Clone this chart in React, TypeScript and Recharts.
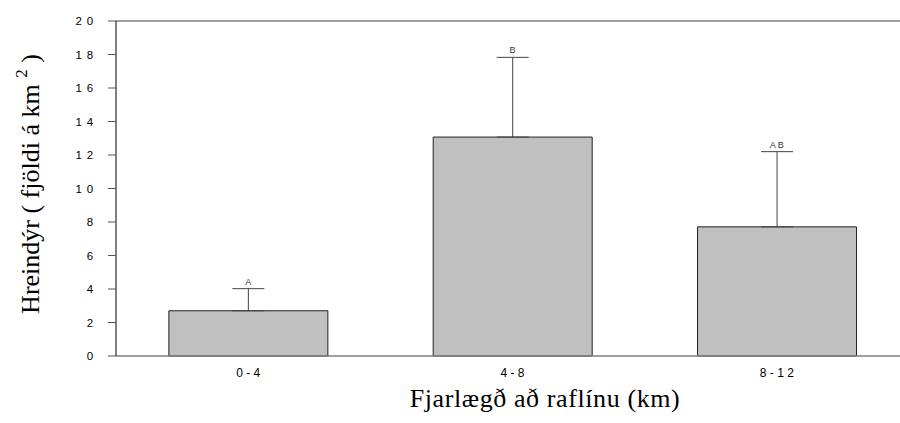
import React from 'react';
import { ComposedChart, Bar, Line, XAxis, YAxis, ErrorBar, LabelList, ReferenceLine } from 'recharts';

const categories = ['0 - 4', '4 - 8', '8 - 1 2'];
const means = [2.7, 13.07, 7.71];
const errors = [1.32, 4.76, 4.49];
const letters = ['A', 'B', 'A B'];
const yTicks = [0, 2, 4, 6, 8, 10, 12, 14, 16, 18, 20];

const data = categories.map((c, i) => ({
  cat: c,
  mean: means[i],
  err: [0, errors[i]],
  top: means[i] + errors[i],
  letter: letters[i],
}));

const fmtY = (v: number) => String(v).split('').join(' ');

const YLabel = () => (
  <text
    transform="translate(39,184) rotate(-90)"
    textAnchor="middle"
    fontFamily="'Liberation Serif', 'Times New Roman', serif"
    fontSize={26}
    fill="#000"
  >
    <tspan>Hreindýr ( fjöldi á km </tspan>
    <tspan fontSize={17} dy={-12}>2</tspan>
    <tspan dy={12}> )</tspan>
  </text>
);

const XLabel = () => (
  <text
    x={545}
    y={407}
    textAnchor="middle"
    fontFamily="'Liberation Serif', 'Times New Roman', serif"
    fontSize={26}
    letterSpacing={0.6}
    fill="#000"
  >
    Fjarlægð að raflínu (km)
  </text>
);

export default function App() {
  return (
    <div style={{ position: 'fixed', left: 0, top: 0, width: 900, height: 423, overflow: 'hidden', background: '#fff' }}>
      <ComposedChart
        width={910}
        height={423}
        data={data}
        margin={{ top: 21, right: 1, left: 0, bottom: 0 }}
        barCategoryGap="20%"
      >
        <XAxis
          dataKey="cat"
          height={67}
          axisLine={{ stroke: '#808080', strokeWidth: 1.5 }}
          tickLine={false}
          tick={{ fontSize: 12, fill: '#000', fontFamily: "'Liberation Sans', Arial, sans-serif" }}
          tickMargin={6}
          label={<XLabel />}
        />
        <YAxis
          width={116}
          domain={[0, 20]}
          ticks={yTicks}
          interval={0}
          tickFormatter={fmtY}
          axisLine={{ stroke: '#000', strokeWidth: 1 }}
          tickLine={{ stroke: '#555', strokeWidth: 1 }}
          tickSize={8}
          tickMargin={14}
          tick={{ fontSize: 11.5, fill: '#000', fontFamily: "'Liberation Sans', Arial, sans-serif", letterSpacing: 0.8 }}
          label={<YLabel />}
        />
        <ReferenceLine y={20} stroke="#808080" strokeWidth={1.5} />
        <Bar dataKey="mean" fill="#c0c0c0" stroke="#222" strokeWidth={1} isAnimationActive={false}>
          <ErrorBar dataKey="err" width={16} stroke="#444" strokeWidth={1} direction="y" />
        </Bar>
        <Line dataKey="top" stroke="none" dot={false} activeDot={false} isAnimationActive={false}>
          <LabelList
            dataKey="letter"
            position="top"
            offset={4}
            style={{ fontSize: 9, fill: '#333', fontFamily: "'Liberation Sans', Arial, sans-serif" }}
          />
        </Line>
      </ComposedChart>
    </div>
  );
}
